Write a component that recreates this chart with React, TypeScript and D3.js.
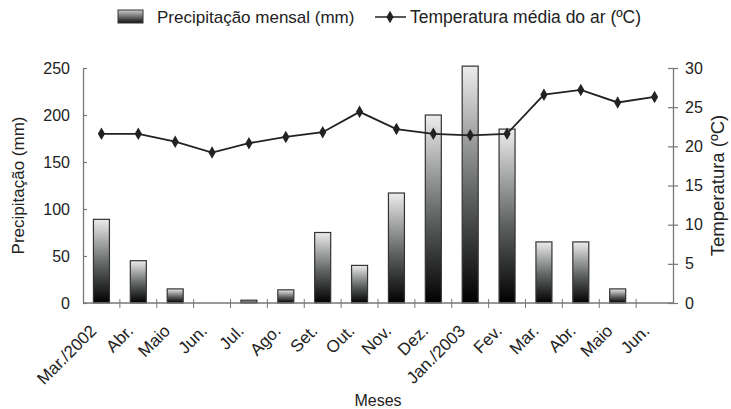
import React, { useRef, useEffect } from 'react';
import * as d3 from 'd3';

const months = ['Mar./2002', 'Abr.', 'Maio', 'Jun.', 'Jul.', 'Ago.', 'Set.', 'Out.', 'Nov.', 'Dez.', 'Jan./2003', 'Fev.', 'Mar.', 'Abr.', 'Maio', 'Jun.'];
const rain = [89, 45, 15, 0, 3, 14, 75, 40, 117, 200, 252, 185, 65, 65, 15, 0];
const temp = [21.6, 21.6, 20.6, 19.2, 20.4, 21.2, 21.8, 24.4, 22.2, 21.6, 21.4, 21.6, 26.6, 27.2, 25.6, 26.3];
const rainTicks = [0, 50, 100, 150, 200, 250];
const tempTicks = [0, 5, 10, 15, 20, 25, 30];

export default function App() {
  const ref = useRef<SVGSVGElement>(null);

  useEffect(() => {
    document.body.style.margin = '0';
    const svg = d3.select(ref.current);
    svg.selectAll('*').remove();

    const width = 731;
    const height = 409;
    const margin = { top: 68, right: 58, bottom: 106, left: 83 };
    const font = '"Liberation Sans", Arial, sans-serif';
    const axisColor = '#777';

    const keys = months.map((m, i) => `${i}`);
    const x = d3.scaleBand().domain(keys).range([margin.left, width - margin.right]).padding(0);
    const yL = d3.scaleLinear().domain([0, 250]).range([height - margin.bottom, margin.top]);
    const yR = d3.scaleLinear().domain([0, 30]).range([height - margin.bottom, margin.top]);

    const defs = svg.append('defs');
    const grad = defs.append('linearGradient').attr('id', 'barGrad').attr('x1', 0).attr('y1', 0).attr('x2', 0).attr('y2', 1);
    grad.append('stop').attr('offset', '0%').attr('stop-color', '#ececec');
    grad.append('stop').attr('offset', '55%').attr('stop-color', '#5e6260');
    grad.append('stop').attr('offset', '100%').attr('stop-color', '#000');
    const gradL = defs.append('linearGradient').attr('id', 'legGrad').attr('x1', 0).attr('y1', 0).attr('x2', 0).attr('y2', 1);
    gradL.append('stop').attr('offset', '0%').attr('stop-color', '#cfcfcf');
    gradL.append('stop').attr('offset', '100%').attr('stop-color', '#111');

    // Bars
    const bw = 16;
    svg.append('g')
      .selectAll('rect')
      .data(rain)
      .join('rect')
      .attr('x', (d, i) => x(`${i}`)! + x.bandwidth() / 2 - bw / 2)
      .attr('y', d => yL(d))
      .attr('width', bw)
      .attr('height', d => yL(0) - yL(d))
      .attr('fill', 'url(#barGrad)')
      .attr('stroke', '#333')
      .attr('stroke-width', d => (d > 0 ? 1.2 : 0));

    // Left axis
    const gL = svg.append('g').attr('transform', `translate(${margin.left},0)`)
      .call(d3.axisLeft(yL).tickValues(rainTicks).tickSizeInner(5).tickSizeOuter(0).tickPadding(8));
    gL.selectAll('.tick line').attr('x2', 4);

    // Right axis
    const gR = svg.append('g').attr('transform', `translate(${width - margin.right},0)`)
      .call(d3.axisRight(yR).tickValues(tempTicks).tickSizeInner(5).tickSizeOuter(0).tickPadding(7));
    gR.selectAll('.tick line').attr('x1', -5);

    // X axis
    const gX = svg.append('g').attr('transform', `translate(0,${height - margin.bottom})`)
      .call(d3.axisBottom(x).tickSize(0).tickFormat(() => ''));
    gX.select('.domain').attr('d', `M${margin.left},0H${width - margin.right}`);
    gX.selectAll('.tick').remove();
    const bounds = [...keys.map(k => x(k)!), width - margin.right];
    gX.selectAll('line.sep')
      .data(bounds.slice(1, -1))
      .join('line')
      .attr('class', 'sep')
      .attr('x1', d => d).attr('x2', d => d)
      .attr('y1', -4).attr('y2', 5)
      .attr('stroke', axisColor);

    [gL, gR, gX].forEach(g => {
      g.selectAll('.domain').attr('stroke', axisColor).attr('stroke-width', 1.3);
      g.selectAll('.tick line').attr('stroke', axisColor).attr('stroke-width', 1.2);
      g.selectAll('text').attr('font-family', font).attr('font-size', 16).attr('fill', '#222');
    });

    // Month labels
    svg.append('g')
      .selectAll('text')
      .data(months)
      .join('text')
      .attr('transform', (d, i) => `translate(${x(`${i}`)! + x.bandwidth() / 2 - 4},${height - margin.bottom + 29}) rotate(-45)`)
      .attr('text-anchor', 'end')
      .attr('font-family', font)
      .attr('font-size', 17)
      .attr('fill', '#222')
      .text(d => d);

    // Temperature line
    const line = d3.line<number>()
      .x((d, i) => x(`${i}`)! + x.bandwidth() / 2)
      .y(d => yR(d));
    svg.append('path')
      .datum(temp)
      .attr('d', line)
      .attr('fill', 'none')
      .attr('stroke', '#222')
      .attr('stroke-width', 1.8);
    const diamond = d3.symbol().type(d3.symbolDiamond).size(45);
    svg.append('g')
      .selectAll('path')
      .data(temp)
      .join('path')
      .attr('transform', (d, i) => `translate(${x(`${i}`)! + x.bandwidth() / 2},${yR(d)})`)
      .attr('d', diamond)
      .attr('fill', '#222');

    // Axis titles
    svg.append('text')
      .attr('transform', `translate(24,${(margin.top + height - margin.bottom) / 2}) rotate(-90)`)
      .attr('text-anchor', 'middle')
      .attr('font-family', font).attr('font-size', 17).attr('fill', '#222')
      .text('Precipitação (mm)');
    svg.append('text')
      .attr('transform', `translate(724,${(margin.top + height - margin.bottom) / 2}) rotate(-90)`)
      .attr('text-anchor', 'middle')
      .attr('font-family', font).attr('font-size', 18.5).attr('fill', '#222')
      .text('Temperatura (ºC)');
    svg.append('text')
      .attr('x', 378).attr('y', 406)
      .attr('text-anchor', 'middle')
      .attr('font-family', font).attr('font-size', 16).attr('fill', '#222')
      .text('Meses');

    // Legend
    const leg = svg.append('g');
    leg.append('rect').attr('x', 118).attr('y', 10).attr('width', 25).attr('height', 13)
      .attr('fill', 'url(#legGrad)').attr('stroke', '#333');
    leg.append('text').attr('x', 157).attr('y', 23)
      .attr('font-family', font).attr('font-size', 17).attr('fill', '#222')
      .text('Precipitação mensal (mm)');
    leg.append('line').attr('x1', 375).attr('x2', 406).attr('y1', 17).attr('y2', 17)
      .attr('stroke', '#222').attr('stroke-width', 1.5);
    leg.append('path').attr('transform', 'translate(390,17)').attr('d', diamond).attr('fill', '#222');
    leg.append('text').attr('x', 410).attr('y', 23)
      .attr('font-family', font).attr('font-size', 17.5).attr('fill', '#222')
      .text('Temperatura média do ar (ºC)');
  }, []);

  return <svg ref={ref} width={731} height={409} style={{ display: 'block' }} />;
}
